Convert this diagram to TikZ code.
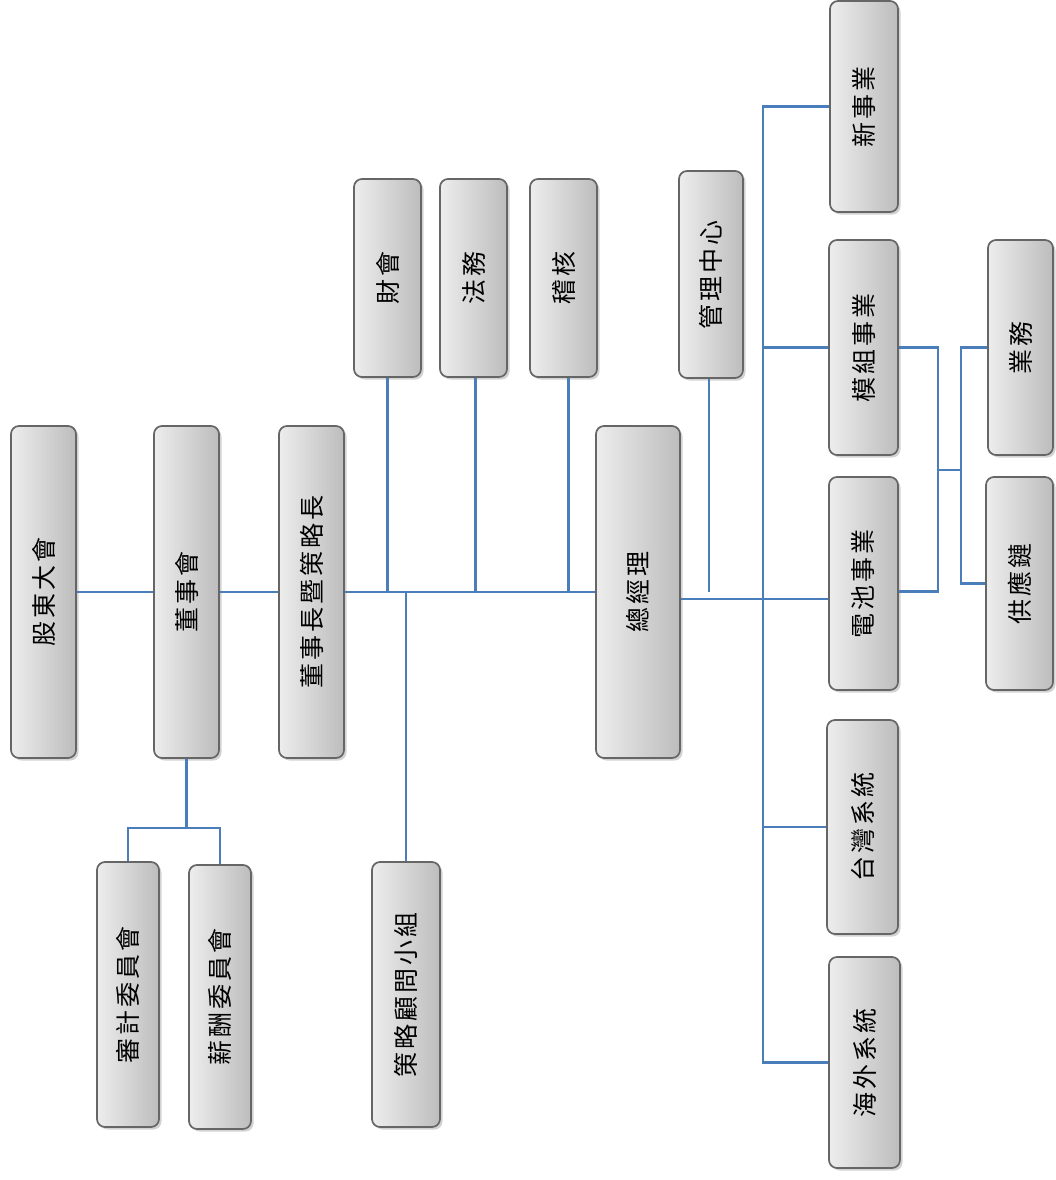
\documentclass[tikz,border=0pt]{standalone}
\usepackage{fontspec}
\usepackage{graphicx}
\usetikzlibrary{shadows}
\newfontfamily\cjk[LetterSpace=12]{Noto Sans CJK TC}
\definecolor{linkblue}{RGB}{74,126,187}

\tikzset{
	box/.style={draw=black!60, line width=1.7pt, rounded corners=8pt,
		left color=black!7, right color=black!26,
		drop shadow={opacity=0.35, shadow xshift=2.5pt, shadow yshift=-2.5pt},
		inner sep=0pt, font=\cjk\fontsize{25}{25}\selectfont},
	link/.style={draw=linkblue, line width=2.1pt}
}

\begin{document}
\begin{tikzpicture}[x=1pt, y=-1pt]

	\useasboundingbox (0,0) rectangle (1055,1180);

	\node[box, minimum width=65pt, minimum height=332pt] (gudong) at (43.5,592) {\rotatebox{90}{股東大會}};
	\node[box, minimum width=65pt, minimum height=332pt] (dongshi) at (186.5,592) {\rotatebox{90}{董事會}};
	\node[box, minimum width=65pt, minimum height=332pt] (chairman) at (311.5,592) {\rotatebox{90}{董事長暨策略長}};
	\node[box, minimum width=84pt, minimum height=332pt] (gm) at (638,592) {\rotatebox{90}{總經理}};

	\node[box, minimum width=67pt, minimum height=198pt] (caihui) at (387.5,278) {\rotatebox{90}{財會}};
	\node[box, minimum width=67pt, minimum height=198pt] (fawu) at (473.5,278) {\rotatebox{90}{法務}};
	\node[box, minimum width=67pt, minimum height=198pt] (jihe) at (563.5,278) {\rotatebox{90}{稽核}};
	\node[box, minimum width=64pt, minimum height=207pt] (guanli) at (711,274.5) {\rotatebox{90}{管理中心}};

	\node[box, minimum width=68pt, minimum height=211pt] (xinshiye) at (864,106.5) {\rotatebox{90}{新事業}};
	\node[box, minimum width=69pt, minimum height=215pt] (mozu) at (863.5,347.5) {\rotatebox{90}{模組事業}};
	\node[box, minimum width=69pt, minimum height=213pt] (dianchi) at (863.5,583.5) {\rotatebox{90}{電池事業}};
	\node[box, minimum width=71pt, minimum height=214pt] (taiwan) at (862.5,827) {\rotatebox{90}{台灣系統}};
	\node[box, minimum width=71pt, minimum height=211pt] (haiwai) at (864.5,1062.5) {\rotatebox{90}{海外系統}};

	\node[box, minimum width=65pt, minimum height=215pt] (yewu) at (1020.5,347.5) {\rotatebox{90}{業務}};
	\node[box, minimum width=67pt, minimum height=213pt] (gongying) at (1019.5,583.5) {\rotatebox{90}{供應鏈}};

	\node[box, minimum width=62pt, minimum height=265pt] (shenji) at (128,994.5) {\rotatebox{90}{審計委員會}};
	\node[box, minimum width=62pt, minimum height=264pt] (xinchou) at (220,997) {\rotatebox{90}{薪酬委員會}};
	\node[box, minimum width=68pt, minimum height=265pt] (celue) at (406,994.5) {\rotatebox{90}{策略顧問小組}};

	\coordinate (bus) at (763,105);
	\coordinate (rj) at (938,470);
	\coordinate (lj) at (961,470);
	\coordinate (gmout) at ([yshift=-7pt]gm.east);
	\coordinate (fawuout) at ([xshift=2pt]fawu.south);
	\coordinate (jiheout) at ([xshift=5pt]jihe.south);
	\coordinate (guanliout) at ([xshift=-2pt]guanli.south);
	\coordinate (dianchiout) at ([yshift=-8pt]dianchi.east);

	\draw[link] (gudong.east) -- (dongshi.west);
	\draw[link] (dongshi.east) -- (chairman.west);
	\draw[link] (chairman.east) -- (gm.west);
	\draw[link] (caihui.south) -- (caihui.south |- gm.west);
	\draw[link] (fawuout) -- (fawuout |- gm.west);
	\draw[link] (jiheout) -- (jiheout |- gm.west);
	\draw[link] (celue.north) -- (celue.north |- gm.west);
	\draw[link] (guanliout) -- (guanliout |- gm.west);

	\draw[link] (dongshi.south) -- ++(0,69) coordinate (cm);
	\draw[link] (shenji.north) |- (cm) -| (xinchou.north);

	\draw[link] (gmout) -- (gmout -| dianchi.west);
	\draw[link] (xinshiye.west) -| (bus |- haiwai.west) -- (haiwai.west);
	\draw[link] (mozu.west) -- (mozu.west -| bus);
	\draw[link] (taiwan.west) -- (taiwan.west -| bus);

	\draw[link] (mozu.east) -| (rj) |- (dianchiout);
	\draw[link] (rj) -- (lj);
	\draw[link] (yewu.west) -| (lj) |- (gongying.west);

\end{tikzpicture}
\end{document}
